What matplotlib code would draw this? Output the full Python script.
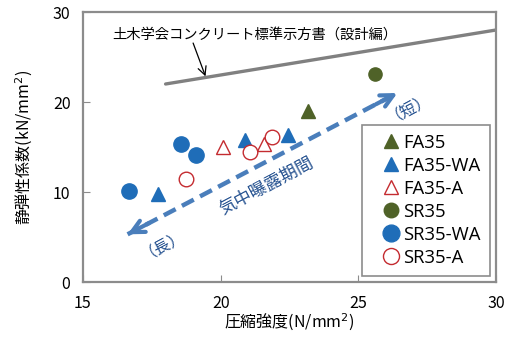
import matplotlib.pyplot as plt

plt.rcParams['font.family'] = ['Noto Sans CJK JP', 'DejaVu Sans']

# compressive strength (N/mm2), static modulus (kN/mm2)
fa35_x = [23.16]
fa35_y = [19.0]
fa35wa_x = [17.74, 20.88, 22.44]
fa35wa_y = [9.8, 15.8, 16.3]
fa35a_x = [20.10, 21.59]
fa35a_y = [15.0, 15.3]
sr35_x = [25.62]
sr35_y = [23.1]
sr35wa_x = [16.68, 18.56, 19.10]
sr35wa_y = [10.1, 15.3, 14.1]
sr35a_x = [18.73, 21.08, 21.85]
sr35a_y = [11.4, 14.4, 16.1]

# JSCE design code line
std_x = [18, 24, 30]
std_y = [22, 25, 28]

olive = '#4F6228'
blue = '#1F6DB8'
red = '#C42B30'
arrow_c = '#4A7EBB'
text_c = '#23508F'
frame_c = '#8C8C8C'

fig = plt.figure(figsize=(5.11, 3.45), dpi=100)
ax = fig.add_axes([0.1624, 0.1826, 0.8082, 0.7826])

ax.plot(std_x, std_y, color='#808080', lw=2.4, solid_capstyle='round', zorder=2)

ax.plot(fa35_x, fa35_y, '^', color=olive, ms=9.5, ls='none', label='FA35')
ax.plot(fa35wa_x, fa35wa_y, '^', color=blue, ms=9.5, ls='none', label='FA35-WA')
ax.plot(fa35a_x, fa35a_y, '^', mfc='white', mec=red, mew=1.0, ms=9.5, ls='none', label='FA35-A')
ax.plot(sr35_x, sr35_y, 'o', color=olive, ms=9.5, ls='none', label='SR35')
ax.plot(sr35wa_x, sr35wa_y, 'o', color=blue, ms=11, ls='none', label='SR35-WA')
ax.plot(sr35a_x, sr35a_y, 'o', mfc='white', mec=red, mew=1.0, ms=10.5, ls='none', label='SR35-A')

# exposure period arrow (dashed shaft, solid heads)
p_long = (16.62, 5.3)
p_short = (26.42, 21.0)
ax.plot([p_long[0], p_short[0]], [p_long[1], p_short[1]], color=arrow_c, lw=3.2,
        dashes=(3.0, 1.6), zorder=3)
for tip, tail in [(p_short, p_long), (p_long, p_short)]:
    ax.annotate('', xy=tip, xytext=(tip[0] + (tail[0] - tip[0]) * 0.08,
                                     tip[1] + (tail[1] - tip[1]) * 0.08),
                arrowprops=dict(arrowstyle='->,head_length=0.9,head_width=0.45',
                                color=arrow_c, lw=3.0, shrinkA=0, shrinkB=0), zorder=3)

ax.text(21.68, 10.6, '気中曝露期間', rotation=28, color=text_c, fontsize=12.5,
        ha='center', va='center', rotation_mode='anchor')
ax.text(26.8, 19.6, '（短）', rotation=28, color=text_c, fontsize=11.5,
        ha='center', va='center', rotation_mode='anchor')
ax.text(17.87, 4.4, '（長）', rotation=28, color=text_c, fontsize=11.5,
        ha='center', va='center', rotation_mode='anchor')

ax.text(16.05, 27.45, '土木学会コンクリート標準示方書（設計編）', fontsize=10.3,
        ha='left', va='center')
ax.annotate('', xy=(19.45, 22.85), xytext=(19.0, 26.55),
            arrowprops=dict(arrowstyle='->,head_length=0.6,head_width=0.3',
                            color='black', lw=0.9, shrinkA=0, shrinkB=0))

ax.set_xlim(15, 30)
ax.set_ylim(0, 30)
ax.set_xticks([15, 20, 25, 30])
ax.set_yticks([0, 10, 20, 30])
ax.tick_params(direction='in', length=5, color=frame_c, labelsize=11.5, pad=9)
for s in ax.spines.values():
    s.set_color(frame_c)
    s.set_linewidth(1.6)

ax.set_xlabel('圧縮強度(N/mm$^2$)', fontsize=11.5, labelpad=0)
ax.set_ylabel('静弾性係数(kN/mm$^2$)', fontsize=11.5, labelpad=13)

leg = ax.legend(loc='lower right', bbox_to_anchor=(0.985, 0.022),
                prop={'family': 'Open Sans', 'size': 13.3},
                frameon=True, fancybox=False, edgecolor=frame_c, framealpha=1,
                handletextpad=-0.4, handlelength=2.1, labelspacing=0.27,
                borderpad=0.5, borderaxespad=0, markerscale=1.1)
leg.get_frame().set_linewidth(1.2)

fig.savefig('out.png', dpi=100)
